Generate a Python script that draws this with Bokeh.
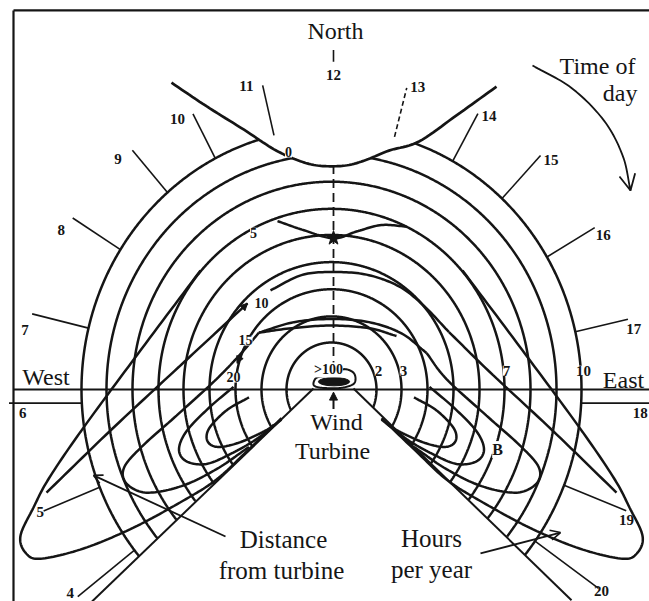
import numpy as np
from bokeh.plotting import figure
from bokeh.models import Range1d, Label, Arrow, NormalHead, OpenHead
from bokeh.embed import file_html
from bokeh.resources import INLINE
from bokeh.core.properties import value

INK = "#151515"
SERIF = "Liberation Serif"

# ---------------- data ----------------
# distances in turbine units (outer circle = 10), x = east, y = north
arc_radius = [1.8, 2.8, 3.84, 4.88, 5.92, 6.92, 7.96, 9.0, 10.0]
dist_label_text = ["2", "3", "7", "10"]
dist_label_radius = [1.8, 2.8, 6.92, 10.0]

hours = [4, 5, 6, 7, 8, 9, 10, 11, 12, 13, 14, 15, 16, 17, 18, 19, 20]
hour_azimuth = [218, 202, 183, 166.4, 147.6, 131, 117.7, 103.3, 90,
                75.4, 61, 47, 30.5, 12.8, -3, -21.5, -35.5]
hour_tick_outer = [12.88, 12.42, 12.9, 12.32, 12.26, 12.14, 11.92, 11.97, 13.0,
                   11.94, 12.08, 12.26, 12.22, 12.16, 12.9, 12.67, 13.12]

# winter limit (0 hours per year)
zero_x = [-6.4, -5.0, -3.5, -2.3, -1.4, -0.7, 0.0, 0.7, 1.4, 2.3, 3.5, 5.0, 6.6]
zero_y = [11.75, 10.85, 9.95, 9.2, 8.8, 8.6, 8.55, 8.6, 8.8, 9.15, 9.5, 10.5, 11.6]

# summer limit (V from the turbine)
summer_left_x = [-0.72, -9.6]
summer_left_y = [0.04, -8.14]
summer_right_x = [0.88, 9.6]
summer_right_y = [0.04, -8.07]

# hours-per-year contours (control points)
c5_lens = [(-2.16, 6.45), (-1.1, 6.1), (0.08, 5.79), (1.0, 6.05), (2.0, 6.3), (3.0, 6.24)]
c5_side = [(-5.24, 4.56), (-7.6, 1.55), (-9.92, -1.46),
           (-11.3, -3.4), (-11.92, -4.52), (-12.44, -5.6), (-12.24, -6.25), (-11.64, -6.48),
           (-9.92, -6.09), (-7.92, -5.29), (-5.92, -4.25), (-4.6, -3.45), (-3.4, -2.38), (-2.0, -1.1)]
c10_top = [(-2.44, 3.8), (-1.2, 4.38), (0, 4.5), (1.4, 4.4), (2.7, 3.95), (3.7, 3.2), (4.7, 2.2)]
c10_side = [(-3.36, 3.30), (-6.1, 0.87), (-8.84, -1.57), (-11.4, -3.95)]
c10_side_right = [(4.7, 2.2), (6.3, 0.7), (8.84, -1.57), (11.4, -3.95)]
c15_top_upper = [(-2.9, 2.18), (-1.5, 2.58), (0, 2.7), (1.5, 2.58), (2.8, 2.15), (3.8, 1.4)]
c15_top_lower = [(-2.9, 2.18), (-1.5, 2.36), (0, 2.45), (1.5, 2.35), (2.6, 2.05)]
c15_side = [(-2.9, 2.18), (-3.6, 1.4), (-4.6, 0.4), (-6.2, -1.0), (-7.6, -2.2), (-8.3, -3.0),
            (-8.2, -3.6), (-7.4, -3.95), (-6.0, -3.7), (-4.6, -3.05), (-3.3, -2.2)]
c20_side = [(-3.92, 0.1), (-4.9, -0.7), (-5.8, -1.6), (-6.1, -2.3), (-5.8, -2.75), (-5.0, -2.85),
            (-4.0, -2.45), (-3.0, -1.9), (-2.3, -1.35)]
c30_side = [(-3.3, -0.3), (-4.2, -0.8), (-4.9, -1.5), (-4.95, -2.0), (-4.5, -2.2), (-3.6, -2.0),
            (-2.5, -1.5), (-2.0, -1.15)]
blob_outline = [(-0.72, 0.19), (-0.6, 0.45), (-0.2, 0.52), (0.1, 0.55), (0.5, 0.78), (0.9, 0.62),
                (0.92, 0.25), (0.5, 0.08), (0.0, 0.05), (-0.5, 0.08)]

contour_label_text = ["0", "5", "10", "15", "20"]
contour_label_x = [-1.72, -3.12, -2.8, -3.44, -3.92]
contour_label_y = [9.08, 6.0, 3.33, 1.88, 0.46]

# text annotations
title_text = ["North", "West", "East", "Wind", "Turbine", "Time of"]
title_x = [0.16, -11.42, 11.68, 0.2, 0.04, 10.64]
title_y = [13.75, 0.46, 0.38, -1.23, -2.34, 12.41]
note_text = ["Distance", "from turbine", "Hours", "per year"]
note_x = [-1.92, -2.0, 4.0, 4.0]
note_y = [-5.75, -6.93, -5.71, -6.9]

time_arrow_x = [8.04, 9.6, 10.9, 11.65, 11.96]
time_arrow_y = [12.41, 11.55, 10.3, 8.95, 7.62]

# ---------------- helpers ----------------
def smooth(pts, n=14, closed=False):
    pts = np.asarray(pts, float)
    if len(pts) < 3:
        return list(pts[:, 0]), list(pts[:, 1])
    if closed:
        P = np.vstack([pts[-1], pts, pts[0], pts[1]])
    else:
        P = np.vstack([2 * pts[0] - pts[1], pts, 2 * pts[-1] - pts[-2]])
    out = []
    t = np.linspace(0, 1, n, endpoint=False)[:, None]
    for i in range(1, len(P) - 2):
        p0, p1, p2, p3 = P[i - 1], P[i], P[i + 1], P[i + 2]
        seg = 0.5 * ((2 * p1) + (-p0 + p2) * t + (2 * p0 - 5 * p1 + 4 * p2 - p3) * t ** 2
                     + (-p0 + 3 * p1 - 3 * p2 + p3) * t ** 3)
        out.append(seg)
    out.append(P[-2][None, :])
    out = np.vstack(out)
    return list(out[:, 0]), list(out[:, 1])


def mirror(pts):
    return [(-x, y) for x, y in pts]


def v_limit(x):
    if x < 0:
        return np.interp(x, summer_left_x[::-1], summer_left_y[::-1])
    return np.interp(x, summer_right_x, summer_right_y)


# ---------------- figure ----------------
p = figure(width=649, height=601, x_range=Range1d(-13.24, 12.72), y_range=Range1d(-8.12, 14.9),
           output_backend="svg", toolbar_location=None, min_border=0)
p.xaxis.visible = False
p.yaxis.visible = False
p.grid.visible = False
p.outline_line_color = None
p.background_fill_color = "white"
p.border_fill_color = "white"

# frame lines
p.line([-12.72, -12.72], [-8.3, 14.52], line_color=INK, line_width=2.2)
p.line([-12.72, 12.8], [14.52, 14.52], line_color=INK, line_width=2.2)
p.line([-12.72, 12.8], [0, 0], line_color=INK, line_width=1.8)

# distance arcs
ang = np.radians(np.linspace(-45, 225, 900))
zx = np.array(zero_x)
zy = np.array(zero_y)
arc_xs, arc_ys = [], []
for r in arc_radius:
    xs = r * np.cos(ang)
    ys = r * np.sin(ang)
    keep = np.array([y >= v_limit(x) for x, y in zip(xs, ys)])
    inside_zero = (xs < zx.min()) | (xs > zx.max()) | (ys <= np.interp(xs, zx, zy))
    keep &= inside_zero
    seg_x, seg_y = [], []
    for k, x, y in zip(keep, xs, ys):
        if k:
            seg_x.append(x)
            seg_y.append(y)
        elif seg_x:
            arc_xs.append(seg_x)
            arc_ys.append(seg_y)
            seg_x, seg_y = [], []
    if seg_x:
        arc_xs.append(seg_x)
        arc_ys.append(seg_y)
p.multi_line(arc_xs, arc_ys, line_color=INK, line_width=2.5)

# winter limit
zsx, zsy = smooth(list(zip(zero_x, zero_y)), n=10)
p.line(zsx, zsy, line_color=INK, line_width=2.7)

# summer limit
p.line(summer_left_x, summer_left_y, line_color=INK, line_width=2.0)
p.line(summer_right_x, summer_right_y, line_color=INK, line_width=2.0)

# north axis
p.line([0.08, 0.08], [0.75, 8.55], line_color=INK, line_width=1.8, line_dash="9 5")

# contours
curves = [c5_lens, c5_side, mirror(c5_side),
          c10_top, c10_side, c10_side_right,
          c15_top_upper, c15_top_lower, c15_side, [c15_top_upper[-1]] + mirror(c15_side[2:]),
          c20_side, mirror(c20_side), c30_side, mirror(c30_side)]
cx, cy = [], []
for c in curves:
    sx, sy = smooth(c)
    cx.append(sx)
    cy.append(sy)
p.multi_line(cx, cy, line_color=INK, line_width=2.5)

# turbine
bx, by = smooth(blob_outline, closed=True)
p.patch(bx, by, fill_color="white", line_color=INK, line_width=2.0)
p.ellipse(x=[0.1], y=[0.3], width=[1.25], height=[0.32], fill_color=INK, line_color=INK)
p.add_layout(Arrow(end=NormalHead(size=8, fill_color=INK, line_color=INK), x_start=0.08, y_start=-0.75,
                   x_end=0.08, y_end=-0.1, line_color=INK, line_width=2))
p.scatter(x=[0.08], y=[5.8], marker="star", size=15, fill_color=INK, line_color=INK)

# hour ticks and labels
tx, ty, dx, dy, lx, ly = [], [], [], [], [], []
for h, az, ro in zip(hours, hour_azimuth, hour_tick_outer):
    a = np.radians(az)
    if h in (6, 18):
        s = np.sign(np.cos(a))
        yy = 10 * np.sin(a)
        seg = ([10 * np.cos(a), s * ro], [yy, yy])
        lx.append(s * 12.35)
        ly.append(yy - 0.36)
    elif h == 12:
        seg = ([0.08, 0.08], [12.55, ro])
        lx.append(0.08)
        ly.append(12.05)
    else:
        seg = ([10 * np.cos(a), ro * np.cos(a)], [10 * np.sin(a), ro * np.sin(a)])
        if 7 <= h <= 11:
            shift = 3
        elif 13 <= h <= 17:
            shift = -2
        elif h == 4:
            shift = -1.3
        elif h == 19:
            shift = -1.5
        else:
            shift = 0
        b = np.radians(az + shift)
        lx.append((ro + 0.15) * np.cos(b))
        ly.append((ro + 0.15) * np.sin(b))
    if h == 13:
        dx.append(seg[0])
        dy.append(seg[1])
    else:
        tx.append(seg[0])
        ty.append(seg[1])
p.multi_line(tx, ty, line_color=INK, line_width=1.6)
p.multi_line(dx, dy, line_color=INK, line_width=1.6, line_dash="5 3")
p.text(x=lx, y=ly, text=[str(h) for h in hours], text_font=value(SERIF), text_font_size="15px",
       text_font_style="bold", text_align="center", text_baseline="middle", text_color=INK)

# distance labels on the east axis
for t, r in zip(dist_label_text, dist_label_radius):
    p.add_layout(Label(x=r + 0.08, y=0.72, text=t, text_font=SERIF, text_font_size="15px",
                       text_font_style="bold", text_align="center", text_baseline="middle",
                       text_color=INK, background_fill_color="white"))

# contour labels
for t, x, y in zip(contour_label_text, contour_label_x, contour_label_y):
    p.add_layout(Label(x=x, y=y, text=t, text_font=SERIF, text_font_size="14px",
                       text_font_style="bold", text_align="center", text_baseline="middle",
                       text_color=INK, background_fill_color="white"))
p.add_layout(Label(x=-0.12, y=0.75, text=">100", text_font=SERIF, text_font_size="14px",
                   text_font_style="bold", text_align="center", text_baseline="middle",
                   text_color=INK, background_fill_color="white"))
p.add_layout(Label(x=6.64, y=-2.3, text="B", text_font=SERIF, text_font_size="16px",
                   text_font_style="bold", text_align="center", text_baseline="middle",
                   text_color=INK, background_fill_color="white"))

# annotations
p.text(x=title_x, y=title_y, text=title_text, text_font=value(SERIF), text_font_size="24px",
       text_align="center", text_baseline="middle", text_color=INK)
p.text(x=[12.24], y=[11.34], text=["day"], text_font=value(SERIF), text_font_size="24px",
       text_align="right", text_baseline="middle", text_color=INK)
p.text(x=note_x, y=note_y, text=note_text, text_font=value(SERIF), text_font_size="25px",
       text_align="center", text_baseline="middle", text_color=INK)

tax, tay = smooth(list(zip(time_arrow_x, time_arrow_y)))
p.line(tax, tay, line_color=INK, line_width=1.8)
p.add_layout(Arrow(end=OpenHead(size=16, line_color=INK, line_width=1.8), x_start=tax[-3], y_start=tay[-3],
                   x_end=tax[-1], y_end=tay[-1], line_color=INK, line_width=1.8))
p.add_layout(Arrow(end=OpenHead(size=9, line_color=INK, line_width=1.6), x_start=-4.24, y_start=-5.63,
                   x_end=-9.52, y_end=-3.29, line_color=INK, line_width=1.8))
p.add_layout(Arrow(end=OpenHead(size=10, line_color=INK, line_width=1.6), x_start=5.96, y_start=-6.28,
                   x_end=9.16, y_end=-5.48, line_color=INK, line_width=1.8))
p.add_layout(Arrow(end=NormalHead(size=7, fill_color=INK, line_color=INK), x_start=-3.52, y_start=1.53,
                   x_end=-3.78, y_end=1.0, line_color=INK, line_width=1.6))
p.add_layout(Arrow(end=NormalHead(size=7, fill_color=INK, line_color=INK), x_start=-4.0, y_start=2.7,
                   x_end=-3.36, y_end=3.30, line_color=INK, line_width=0))

open("out.html", "w").write(file_html(p, INLINE))
